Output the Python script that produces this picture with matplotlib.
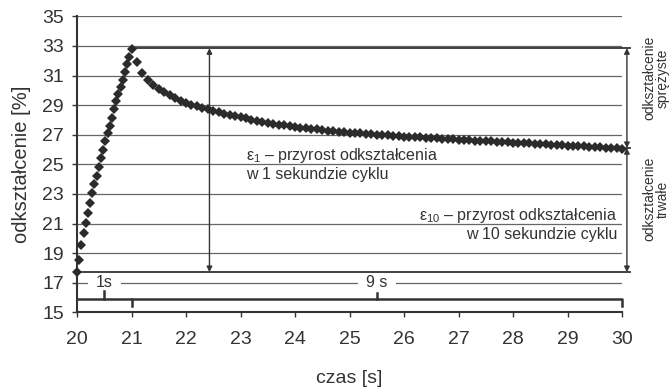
import matplotlib
matplotlib.use("Agg")
import matplotlib.pyplot as plt
import numpy as np

plt.rcParams['font.family'] = ['Liberation Sans', 'DejaVu Sans']
plt.rcParams['mathtext.fontset'] = 'custom'
plt.rcParams['mathtext.rm'] = 'Liberation Sans'
plt.rcParams['mathtext.it'] = 'Liberation Sans'

# ---- data ----
ramp_time = [20.00, 20.04, 20.08, 20.12, 20.16, 20.20, 20.24, 20.28, 20.32, 20.36,
             20.40, 20.44, 20.48, 20.52, 20.56, 20.60, 20.64, 20.68, 20.72, 20.76,
             20.80, 20.84, 20.88, 20.92, 20.96, 21.00]
ramp_strain = [17.74, 18.55, 19.55, 20.34, 21.01, 21.73, 22.41, 23.08, 23.67, 24.23,
               24.84, 25.43, 25.99, 26.55, 27.09, 27.59, 28.13, 28.72, 29.28, 29.73,
               30.20, 30.70, 31.26, 31.76, 32.23, 32.80]

decay_time = [21.1, 21.2, 21.3, 21.4, 21.5, 21.6, 21.7, 21.8, 21.9, 22.0,
              22.1, 22.2, 22.3, 22.4, 22.5, 22.6, 22.7, 22.8, 22.9, 23.0,
              23.1, 23.2, 23.3, 23.4, 23.5, 23.6, 23.7, 23.8, 23.9, 24.0,
              24.1, 24.2, 24.3, 24.4, 24.5, 24.6, 24.7, 24.8, 24.9, 25.0,
              25.1, 25.2, 25.3, 25.4, 25.5, 25.6, 25.7, 25.8, 25.9, 26.0,
              26.1, 26.2, 26.3, 26.4, 26.5, 26.6, 26.7, 26.8, 26.9, 27.0,
              27.1, 27.2, 27.3, 27.4, 27.5, 27.6, 27.7, 27.8, 27.9, 28.0,
              28.1, 28.2, 28.3, 28.4, 28.5, 28.6, 28.7, 28.8, 28.9, 29.0,
              29.1, 29.2, 29.3, 29.4, 29.5, 29.6, 29.7, 29.8, 29.9, 30.0]
decay_strain = [31.89, 31.19, 30.70, 30.36, 30.07, 29.86, 29.66, 29.48, 29.30, 29.16,
                29.03, 28.92, 28.81, 28.71, 28.61, 28.52, 28.43, 28.34, 28.26, 28.18,
                28.10, 28.02, 27.95, 27.88, 27.81, 27.75, 27.69, 27.63, 27.58, 27.53,
                27.48, 27.44, 27.40, 27.36, 27.32, 27.28, 27.25, 27.21, 27.18, 27.15,
                27.12, 27.09, 27.06, 27.03, 27.00, 26.98, 26.95, 26.93, 26.91, 26.88,
                26.86, 26.84, 26.82, 26.79, 26.77, 26.75, 26.73, 26.71, 26.69, 26.67,
                26.65, 26.63, 26.61, 26.59, 26.57, 26.55, 26.53, 26.51, 26.49, 26.47,
                26.45, 26.43, 26.41, 26.39, 26.37, 26.35, 26.33, 26.31, 26.29, 26.27,
                26.25, 26.23, 26.21, 26.19, 26.17, 26.15, 26.13, 26.11, 26.09, 26.07]

x_ticks = [20, 21, 22, 23, 24, 25, 26, 27, 28, 29, 30]
y_ticks = [15, 17, 19, 21, 23, 25, 27, 29, 31, 33, 35]

peak_level = 32.85
base_level = 17.72
end_level = 26.1
arrow1_x = 22.43
arrow2_x = 30.09
bracket_y = 15.9

dark = '#333333'

fig = plt.figure(figsize=(6.71, 3.89), dpi=100)
ax = fig.add_axes([0.1148, 0.197, 0.8122, 0.761])
ax.set_xlim(20, 30)
ax.set_ylim(15, 35)
ax.set_xticks(x_ticks)
ax.set_yticks(y_ticks)
ax.tick_params(axis='both', labelsize=14, colors=dark, length=3.5, width=1)
ax.tick_params(axis='x', pad=10)
ax.tick_params(axis='y', pad=6)
for s in ['top', 'right']:
    ax.spines[s].set_visible(False)
for s in ['left', 'bottom']:
    ax.spines[s].set_color(dark)
    ax.spines[s].set_linewidth(1.5)
ax.yaxis.grid(True, color='#666666', lw=0.9)
ax.set_axisbelow(True)

ax.set_xlabel('czas [s]', fontsize=14, color=dark, labelpad=16)
ax.set_ylabel('odkształcenie [%]', fontsize=14.5, color=dark, labelpad=8)

# reference lines
ax.plot([21, 30.15], [peak_level, peak_level], color=dark, lw=1.3, clip_on=False, zorder=3.5)
ax.plot([20, 30.15], [base_level, base_level], color=dark, lw=1.3, clip_on=False, zorder=3.5)
ax.plot([30, 30.15], [end_level, end_level], color=dark, lw=1.3, clip_on=False, zorder=3.5)

# data
ax.plot(ramp_time, ramp_strain, 'D', color='#2b2b2b', ms=5, mew=0, clip_on=False, zorder=4)
ax.plot(decay_time, decay_strain, 'D', color='#2b2b2b', ms=5, mew=0, clip_on=False, zorder=4)

# arrows
ap = dict(arrowstyle='<|-|>', color=dark, lw=1, mutation_scale=8, shrinkA=0, shrinkB=0)
ax.annotate('', xy=(arrow1_x, peak_level), xytext=(arrow1_x, base_level), arrowprops=ap, annotation_clip=False, zorder=3.5)
ax.annotate('', xy=(arrow2_x, peak_level), xytext=(arrow2_x, end_level), arrowprops=ap, annotation_clip=False, zorder=3.5)
ax.annotate('', xy=(arrow2_x, end_level), xytext=(arrow2_x, base_level), arrowprops=ap, annotation_clip=False, zorder=3.5)

# brackets
ax.plot([20, 21, 21], [bracket_y, bracket_y, 15.42], color=dark, lw=1.8, clip_on=False, zorder=3.5)
ax.plot([21, 30, 30], [bracket_y, bracket_y, 15.42], color=dark, lw=1.8, clip_on=False, zorder=3.5)
ax.plot([20.5, 20.5], [bracket_y, 16.42], color=dark, lw=1.8, zorder=3.5)
ax.plot([25.5, 25.5], [bracket_y, 16.3], color=dark, lw=1.8, zorder=3.5)

tb = dict(facecolor='white', edgecolor='none', pad=6)
ax.text(20.5, 17.0, '1s', ha='center', va='center', fontsize=11.5, color=dark, bbox=tb, zorder=2.5)
ax.text(25.5, 17.0, '9 s', ha='center', va='center', fontsize=11.5, color=dark, bbox=tb, zorder=2.5)

# annotations
ax.text(23.1, 25.63, 'ε$_1$ – przyrost odkształcenia', fontsize=11.5, color=dark, va='center', ha='left')
ax.text(23.1, 24.34, 'w 1 sekundzie cyklu', fontsize=11.5, color=dark, va='center', ha='left')
ax.text(29.92, 21.57, 'ε$_{10}$ – przyrost odkształcenia', fontsize=11.5, color=dark, va='center', ha='right')
ax.text(29.92, 20.27, 'w 10 sekundzie cyklu', fontsize=11.5, color=dark, va='center', ha='right')

fig.text(649/671, 1 - 78/389, 'odkształcenie', rotation=90, fontsize=10, color=dark, ha='center', va='center')
fig.text(663/671, 1 - 78/389, 'sprężyste', rotation=90, fontsize=10, color=dark, ha='center', va='center')
fig.text(649/671, 1 - 199/389, 'odkształcenie', rotation=90, fontsize=10, color=dark, ha='center', va='center')
fig.text(663/671, 1 - 199/389, 'trwałe', rotation=90, fontsize=10, color=dark, ha='center', va='center')

fig.savefig('out.png', dpi=100)
